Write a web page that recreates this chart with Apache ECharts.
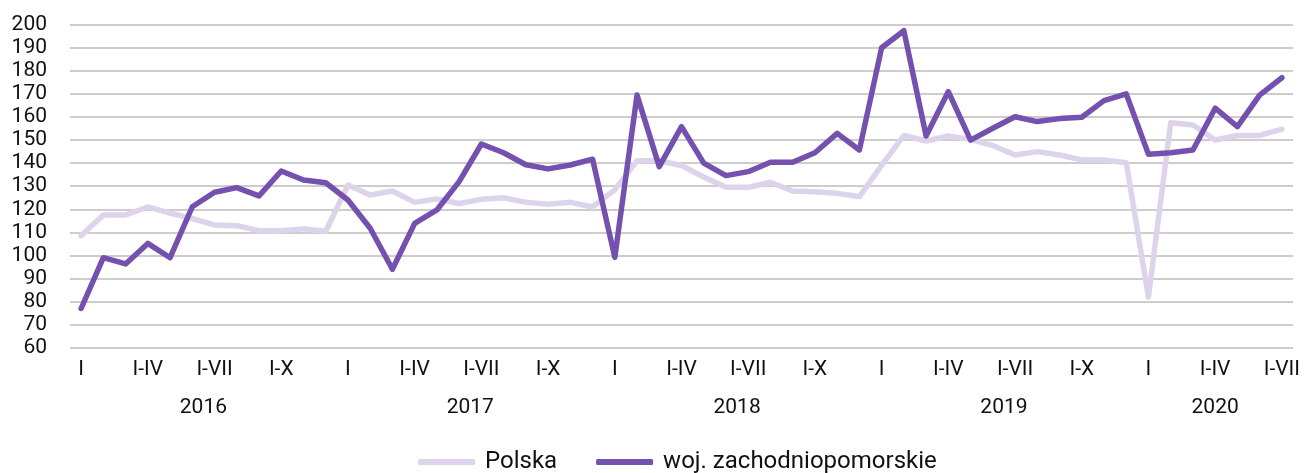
<!DOCTYPE html>
<html>
<head>
<meta charset="utf-8">
<script src="https://cdn.jsdelivr.net/npm/echarts@6/dist/echarts.min.js"></script>
<style>html,body{margin:0;padding:0;background:#fff;}#c{width:1307px;height:473px;}</style>
</head>
<body>
<div id="c"></div>
<script>
// Months Jan 2016 .. Jul 2020
const years = ['2016', '2017', '2018', '2019', '2020'];
const monthsPerYear = [12, 12, 12, 12, 7];
const quarterLabels = ['I', 'I-IV', 'I-VII', 'I-X'];

const polska = [
  108.5, 117.5, 117.5, 121, 118.3, 116, 113.2, 112.9, 110.7, 110.7, 111.5, 110.5,
  130.5, 126.2, 127.9, 123, 124.5, 122.5, 124.3, 125, 123, 122.2, 123, 121,
  128.4, 141, 141, 139, 134, 129.5, 129.5, 131.7, 127.9, 127.6, 126.9, 125.5,
  139, 152, 149.6, 151.8, 150.3, 147.6, 143.5, 145, 143.5, 141.4, 141.4, 140.2,
  82, 157.5, 156.5, 150, 152, 152, 154.7
];
const zachodniopomorskie = [
  77, 99, 96.3, 105.2, 99, 121.1, 127.4, 129.4, 125.8, 136.6, 132.7, 131.5,
  124, 111.8, 94, 113.9, 119.7, 132, 148.3, 144.5, 139.3, 137.5, 139.2, 141.7,
  99.2, 169.5, 138.5, 155.8, 140, 134.6, 136.3, 140.4, 140.4, 144.5, 152.9, 145.7,
  190, 197.4, 151.8, 171, 150, 155.1, 160.1, 158, 159.3, 159.9, 167.1, 170,
  143.8, 144.5, 145.7, 163.8, 155.8, 169.5, 177
];

// build categories from years/months
const categories = [];
const yearCenters = [];
years.forEach((y, yi) => {
  const start = categories.length;
  for (let m = 0; m < monthsPerYear[yi]; m++) categories.push(y + '-' + (m + 1));
  yearCenters.push((start + categories.length - 1) / 2);
});

const FONT = 'Roboto';
const chart = echarts.init(document.getElementById('c'), null, {renderer: 'canvas'});
chart.setOption({
  animation: false,
  backgroundColor: '#ffffff',
  textStyle: {fontFamily: FONT},
  grid: {left: 70, right: 14, top: 24.7, bottom: 125.3, containLabel: false},
  legend: {
    top: 445,
    left: 413,
    itemWidth: 57,
    itemHeight: 6,
    itemGap: 39,
    icon: 'roundRect',
    textStyle: {fontFamily: FONT, fontSize: 24, color: '#111', padding: [0, 0, 0, 5]},
    data: ['Polska', 'woj. zachodniopomorskie']
  },
  xAxis: [
    {
      type: 'category',
      data: categories,
      boundaryGap: true,
      axisLine: {show: false},
      axisTick: {show: false},
      axisLabel: {
        interval: 2,
        margin: 12,
        fontFamily: FONT,
        fontSize: 21,
        color: '#111',
        formatter: (v, i) => quarterLabels[(i % 12) / 3] || ''
      }
    },
    {
      type: 'value',
      position: 'bottom',
      offset: 38,
      min: -0.5,
      max: categories.length - 0.5,
      axisLine: {show: false},
      axisTick: {show: false},
      splitLine: {show: false},
      axisLabel: {
        customValues: yearCenters,
        margin: 12,
        fontFamily: FONT,
        fontSize: 21,
        color: '#111',
        formatter: (v) => {
          const k = yearCenters.findIndex(c => Math.abs(c - v) < 1e-6);
          return k >= 0 ? years[k] : '';
        }
      }
    }
  ],
  yAxis: {
    type: 'value',
    min: 60,
    max: 200,
    interval: 10,
    axisLine: {show: false},
    axisTick: {show: false},
    axisLabel: {margin: 23, fontFamily: FONT, fontSize: 21, color: '#111'},
    splitLine: {lineStyle: {color: '#bdbdbd', width: 1.5}}
  },
  series: [
    {
      name: 'Polska',
      type: 'line',
      data: polska,
      xAxisIndex: 0,
      showSymbol: false,
      symbol: 'none',
      color: '#ddd4eb',
      lineStyle: {width: 5.5, color: '#ddd4eb', join: 'round', cap: 'round'}
    },
    {
      name: 'woj. zachodniopomorskie',
      type: 'line',
      data: zachodniopomorskie,
      xAxisIndex: 0,
      showSymbol: false,
      symbol: 'none',
      color: '#7451ae',
      lineStyle: {width: 5.5, color: '#7451ae', join: 'round', cap: 'round'}
    }
  ]
});
</script>
</body>
</html>
